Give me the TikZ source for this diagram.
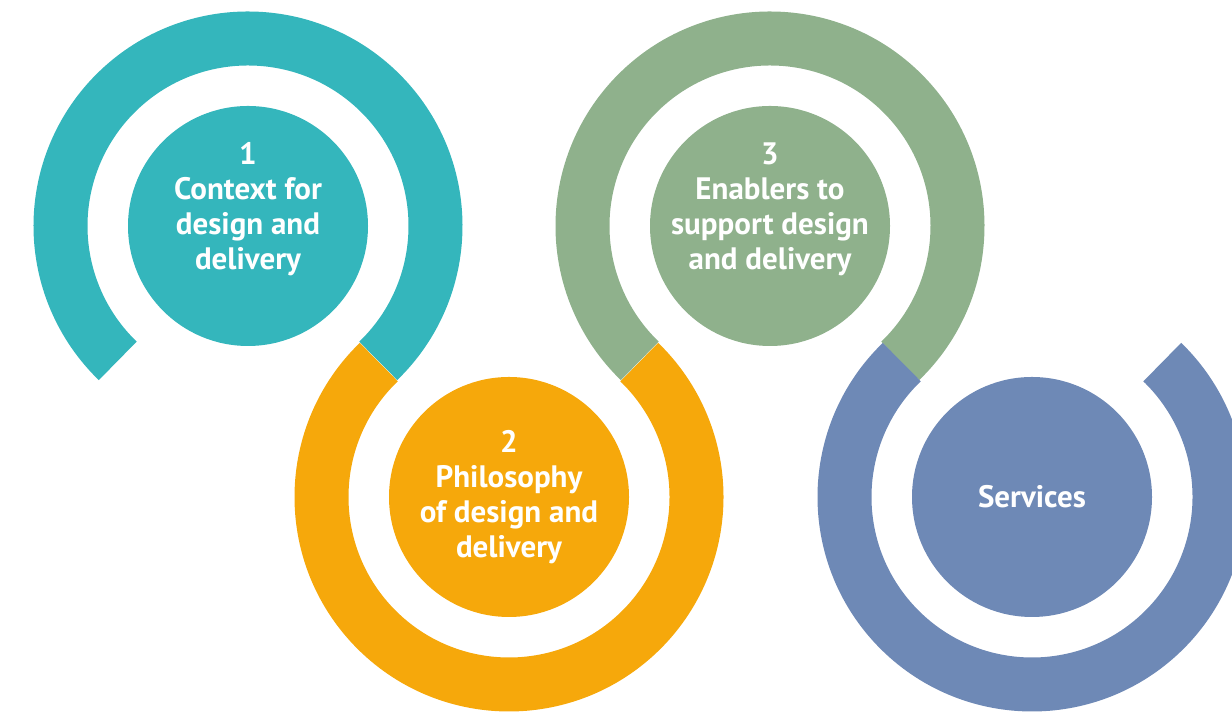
\documentclass[tikz,border=0pt]{standalone}
\usepackage{fontspec}
\setsansfont{PT Sans}
\usetikzlibrary{calc, positioning}

\definecolor{ringteal}{HTML}{34B6BC}
\definecolor{ringorange}{HTML}{F6A80B}
\definecolor{ringgreen}{HTML}{8FB18C}
\definecolor{ringblue}{HTML}{6E89B6}

\tikzset{
  ring/.style={line width=27pt, line cap=butt},
  disk/.style={circle, minimum size=120pt, inner sep=0pt},
  disk text/.style={text=white, align=center,
    font=\sffamily\bfseries\fontsize{15.5}{17.5}\selectfont},
}
\newcommand{\ringr}{187.5}

\begin{document}
\begin{tikzpicture}[x=0.5pt, y=0.5pt]
 \useasboundingbox (0,0) rectangle (1232,715);
 \clip (0,0) rectangle (1232,715);
 % inner discs
 \node[disk, fill=ringteal] (ctx) at (248,489) {};
 \node[disk, fill=ringorange] (phil) at (509,218) {};
 \node[disk, fill=ringgreen] (enab) at (770,489) {};
 \node[disk, fill=ringblue] (serv) at (1032,218) {};
 \node[disk text] (ctx-t) at ([yshift=8.5pt]ctx.center) {1\\Context for\\design and\\delivery};
 \node[disk text] (phil-t) at (phil.center) {2\\Philosophy\\of design and\\delivery};
 \node[disk text] (enab-t) at ([yshift=8.5pt]enab.center) {3\\Enablers to\\support design\\and delivery};
 \node[disk text] (serv-t) at (serv.center) {Services};
 % open rings, each one ends where the next begins
 \draw[ring, ringteal] (ctx.center) ++(-46:\ringr) arc[start angle=-46, end angle=226, radius=\ringr];
 \draw[ring, ringorange] (phil.center) ++(134:\ringr) arc[start angle=134, end angle=406, radius=\ringr];
 \draw[ring, ringgreen] (enab.center) ++(-46:\ringr) arc[start angle=-46, end angle=226, radius=\ringr];
 \draw[ring, ringblue] (serv.center) ++(134:\ringr) arc[start angle=134, end angle=406, radius=\ringr];
\end{tikzpicture}
\end{document}
